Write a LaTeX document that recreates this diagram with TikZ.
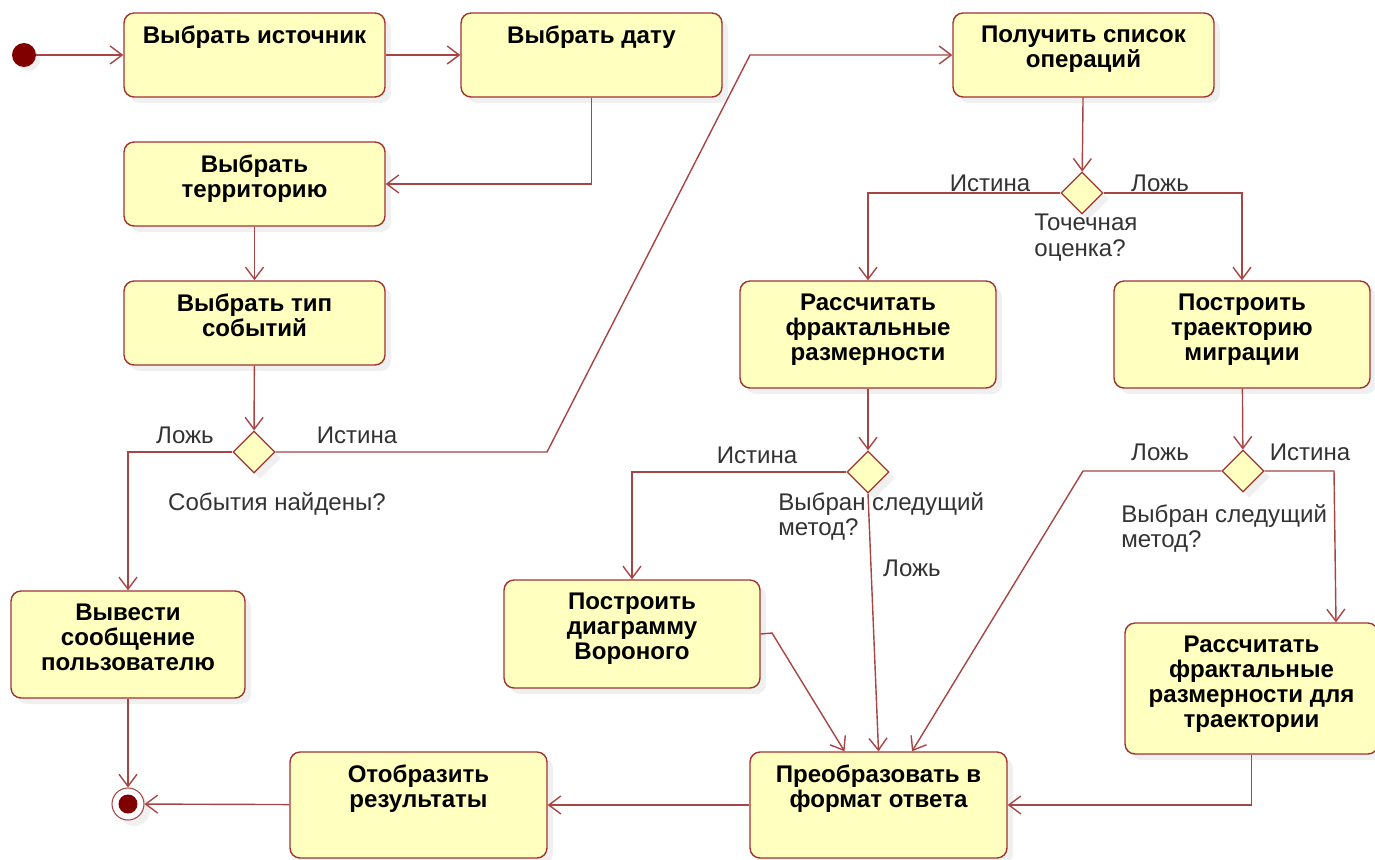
\documentclass[tikz,border=0pt]{standalone}
\usepackage{fontspec}
\setmainfont{Liberation Sans}
\usepackage{tikz}
\usetikzlibrary{arrows.meta,shapes.geometric,shadows}
\definecolor{actfill}{RGB}{255,255,192}
\definecolor{actline}{RGB}{160,52,50}
\definecolor{flowcol}{RGB}{168,68,68}
\definecolor{dotcol}{RGB}{128,0,0}
\definecolor{labcol}{RGB}{51,51,51}
\tikzset{
    actbox/.style={draw=actline, fill=actfill, rounded corners=0.2cm, line width=0.8pt, drop shadow={opacity=0.12, shadow xshift=0.12cm, shadow yshift=-0.12cm}},
    acttext/.style={font=\fontsize{13.7}{14.3}\selectfont\bfseries, align=center, anchor=north, inner sep=0pt, text=black},
    choice/.style={diamond, draw=actline, fill=actfill, line width=0.7pt, minimum width=0.84cm, minimum height=0.84cm, inner sep=0pt, drop shadow={opacity=0.12, shadow xshift=0.12cm, shadow yshift=-0.12cm}},
    guard/.style={font=\fontsize{13.7}{14.3}\selectfont, text=labcol, inner sep=0pt},
    flow/.style={draw=flowcol, line width=0.8pt, -{Straight Barb[length=0.24cm, width=0.36cm]}},
}
\begin{document}
\begin{tikzpicture}[x=0.02cm, y=-0.02cm]
    \useasboundingbox (0,0) rectangle (1375,859);
    % start / end
    \node[circle, fill=dotcol, minimum size=0.48cm, inner sep=0pt, drop shadow={opacity=0.12, shadow xshift=0.08cm, shadow yshift=-0.08cm}] (init) at (24,55) {};
    \node[circle, draw=flowcol, fill=white, line width=0.6pt, minimum size=0.64cm, inner sep=0pt, drop shadow={opacity=0.12, shadow xshift=0.12cm, shadow yshift=-0.12cm}] (final) at (128,804) {};
    \node[circle, fill=dotcol, minimum size=0.38cm, inner sep=0pt] (finaldot) at (final) {};
    % activities
    \node[actbox, minimum width=5.22cm, minimum height=1.68cm] (src) at (254.5,55) {};
    \node[acttext] (srctxt) at ([yshift=-0.26cm]src.north) {Выбрать источник};
    \node[actbox, minimum width=5.22cm, minimum height=1.68cm] (date) at (591.5,55) {};
    \node[acttext] (datetxt) at ([yshift=-0.26cm]date.north) {Выбрать дату};
    \node[actbox, minimum width=5.22cm, minimum height=1.68cm] (ops) at (1083.5,55) {};
    \node[acttext] (opstxt) at ([yshift=-0.26cm]ops.north) {Получить список\\операций};
    \node[actbox, minimum width=5.22cm, minimum height=1.68cm] (terr) at (254.5,184) {};
    \node[acttext] (terrtxt) at ([yshift=-0.26cm]terr.north) {Выбрать\\территорию};
    \node[actbox, minimum width=5.22cm, minimum height=1.68cm] (type) at (254.5,323) {};
    \node[acttext] (typetxt) at ([yshift=-0.26cm]type.north) {Выбрать тип\\событий};
    \node[actbox, minimum width=4.68cm, minimum height=2.14cm] (msg) at (128,644.5) {};
    \node[acttext] (msgtxt) at ([yshift=-0.26cm]msg.north) {Вывести\\сообщение\\пользователю};
    \node[actbox, minimum width=5.14cm, minimum height=2.12cm] (show) at (418.5,805) {};
    \node[acttext] (showtxt) at ([yshift=-0.26cm]show.north) {Отобразить\\результаты};
    \node[actbox, minimum width=5.14cm, minimum height=2.12cm] (conv) at (878.5,805) {};
    \node[acttext] (convtxt) at ([yshift=-0.26cm]conv.north) {Преобразовать в\\формат ответа};
    \node[actbox, minimum width=5.12cm, minimum height=2.14cm] (fract) at (868,334.5) {};
    \node[acttext] (fracttxt) at ([yshift=-0.26cm]fract.north) {Рассчитать\\фрактальные\\размерности};
    \node[actbox, minimum width=5.12cm, minimum height=2.14cm] (traj) at (1242,334.5) {};
    \node[acttext] (trajtxt) at ([yshift=-0.26cm]traj.north) {Построить\\траекторию\\миграции};
    \node[actbox, minimum width=5.12cm, minimum height=2.16cm] (voron) at (632,634) {};
    \node[acttext] (vorontxt) at ([yshift=-0.26cm]voron.north) {Построить\\диаграмму\\Вороного};
    \node[actbox, minimum width=5.06cm, minimum height=2.62cm] (ftraj) at (1251.5,688.5) {};
    \node[acttext] (ftrajtxt) at ([yshift=-0.26cm]ftraj.north) {Рассчитать\\фрактальные\\размерности для\\траектории};
    % decisions
    \node[choice] (found) at (254,452) {};
    \node[choice] (point) at (1082,193) {};
    \node[choice] (nextf) at (868,472) {};
    \node[choice] (nextt) at (1243,471) {};
    % bends
    \coordinate (k1) at (547,452);
    \coordinate (k2) at (750,55);
    \coordinate (k3) at (772,633);
    \coordinate (k4) at (1083,471);
    \coordinate (k5) at (1334,471);
    % flows
    \draw[flow] (init) -- (src);
    \draw[flow] (src) -- (date);
    \draw[flow] (date.south) |- (terr.east);
    \draw[flow] (terr) -- (type);
    \draw[flow] (type) -- (found);
    \draw[flow] (found.west) -| (msg.north);
    \draw[flow] (found.east) -- (k1) -- (k2) -- (ops.west);
    \draw[flow] (msg) -- (final);
    \draw[flow] (show) -- (final);
    \draw[flow] (conv) -- (show);
    \draw[flow] (ops) -- (point);
    \draw[flow] (point.west) -| (fract.north);
    \draw[flow] (point.east) -| (traj.north);
    \draw[flow] (fract) -- (nextf);
    \draw[flow] (traj) -- (nextt);
    \draw[flow] (nextf.west) -| (voron.north);
    \draw[flow] (nextf.south) -- (conv.north);
    \draw[flow] (voron.east) -- (k3) -- ([xshift=-0.68cm]conv.north);
    \draw[flow] (nextt.west) -- (k4) -- ([xshift=0.67cm]conv.north);
    \draw[flow] (nextt.east) -- (k5) -- ([xshift=1.69cm]ftraj.north);
    \draw[flow] (ftraj.south) |- (conv.east);
    % guards
    \node[guard] (g1) at (185,435) {Ложь};
    \node[guard] (g2) at (357,435) {Истина};
    \node[guard] (q1) at (277,504) {События найдены?};
    \node[guard] (g3) at (990,183) {Истина};
    \node[guard] (g4) at (1160,183) {Ложь};
    \node[guard, align=left, anchor=north west] (q2) at (1034,214) {Точечная\\оценка?};
    \node[guard] (g5) at (757,455) {Истина};
    \node[guard] (g6) at (912,568) {Ложь};
    \node[guard, align=left, anchor=north west] (q3) at (778,492) {Выбран следущий\\метод?};
    \node[guard] (g7) at (1160,452) {Ложь};
    \node[guard] (g8) at (1310,452) {Истина};
    \node[guard, align=left, anchor=north west] (q4) at (1121,504) {Выбран следущий\\метод?};
\end{tikzpicture}
\end{document}
